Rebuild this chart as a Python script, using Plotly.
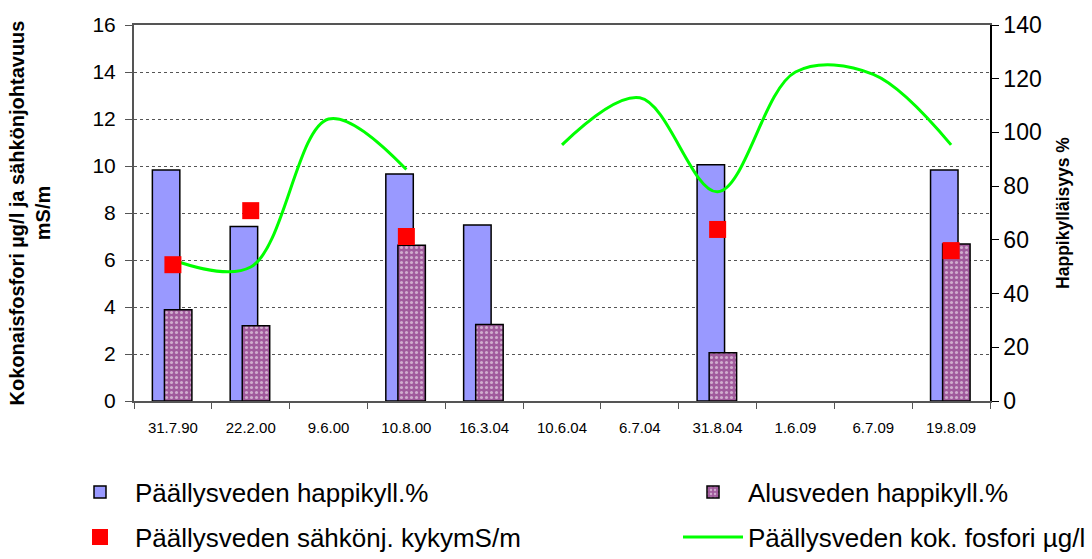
import plotly.graph_objects as go

# Sampling dates (category axis)
dates = ["31.7.90", "22.2.00", "9.6.00", "10.8.00", "16.3.04", "10.6.04",
         "6.7.04", "31.8.04", "1.6.09", "6.7.09", "19.8.09"]

# Oxygen saturation, % (right axis)
surface_o2 = [86, 65, None, 84.5, 65.5, None, None, 88, None, None, 86]
bottom_o2 = [34, 28, None, 58, 28.5, None, None, 18, None, None, 58.5]

# Surface water conductivity, mS/m (left axis)
conductivity = [5.8, 8.1, None, 7.0, None, None, None, 7.3, None, None, 6.4]

# Surface water total phosphorus, µg/l (left axis)
phosphorus = [6.0, 5.7, 12.0, 9.85, None, 10.9, 12.9, 8.9, 14.0, 13.9, 10.9]

left_ticks = list(range(0, 17, 2))
right_ticks = list(range(0, 141, 20))

FONT = "Liberation Sans, Arial, sans-serif"

# plot area in pixels
L, R, T, B = 134, 102, 25, 158
W, H = 1092, 559
PW, PH = W - L - R, H - T - B


def px_x(px):
    return (px - L) / PW


def px_y(py):
    return (H - B - py) / PH


fig = go.Figure()

fig.add_trace(go.Bar(
    x=dates, y=surface_o2, name="Päällysveden happikyll.%",
    marker=dict(color="#9999FF", line=dict(color="black", width=1.5)),
    width=0.353, offset=-0.264, yaxis="y", legend="legend",
))
fig.add_trace(go.Bar(
    x=dates, y=bottom_o2, name="Alusveden happikyll.%",
    marker=dict(color="#a05a9c", line=dict(color="black", width=1.5),
                pattern=dict(shape=".", fgcolor="white", bgcolor="#a05a9c",
                             size=5, solidity=0.3, fillmode="overlay")),
    width=0.353, offset=-0.109, yaxis="y", legend="legend2",
))
fig.add_trace(go.Scatter(
    x=dates, y=phosphorus, name="Päällysveden kok. fosfori µg/l",
    mode="lines", line=dict(color="#00FF00", width=3, shape="spline"),
    connectgaps=False, yaxis="y2", legend="legend4",
))
fig.add_trace(go.Scatter(
    x=dates, y=conductivity, name="Päällysveden sähkönj. kykymS/m",
    mode="markers", marker=dict(symbol="square", color="#FF0000", size=17,
                                line=dict(width=0)),
    yaxis="y2", legend="legend3",
))

leg_common = dict(xref="paper", yref="paper", xanchor="left",
                  yanchor="middle", bgcolor="rgba(0,0,0,0)",
                  font=dict(family=FONT, size=26, color="black"),
                  itemwidth=60)

fig.update_layout(
    width=W, height=H,
    margin=dict(l=L, r=R, t=T, b=B, autoexpand=False),
    paper_bgcolor="white", plot_bgcolor="white",
    barmode="overlay",
    showlegend=True,
    font=dict(family=FONT, color="black"),
    xaxis=dict(
        type="category", range=[-0.5, 10.5],
        showline=True, linecolor="#555555", linewidth=2, mirror=True,
        ticks="outside", tickson="boundaries", ticklen=6, tickcolor="#555555",
        tickfont=dict(size=15), tickangle=0, ticklabelstandoff=12,
        showgrid=False,
    ),
    yaxis=dict(
        side="right", range=[0, 140], tickvals=right_ticks,
        showline=True, linecolor="black", linewidth=1.5,
        ticks="outside", ticklen=7, tickcolor="black",
        tickfont=dict(size=23), showgrid=False, zeroline=False,
        title=dict(text="<b>Happikylläisyys %</b>", font=dict(size=17.5),
                   standoff=16),
    ),
    yaxis2=dict(
        side="left", overlaying="y", range=[0, 16], tickvals=left_ticks,
        showline=True, linecolor="#555555", linewidth=2,
        ticks="outside", ticklen=7, tickcolor="#555555",
        tickfont=dict(size=21), ticklabelstandoff=5, zeroline=False,
        showgrid=True, gridcolor="#555555", griddash="dot", gridwidth=1,
        title=dict(text="<b>Kokonaisfosfori µg/l ja sähkönjohtavuus<br>mS/m</b>",
                   font=dict(size=20), standoff=36),
    ),
    legend=dict(x=px_x(65), y=px_y(492), **leg_common),
    legend2=dict(x=px_x(678), y=px_y(492), **leg_common),
    legend3=dict(x=px_x(65), y=px_y(537), **leg_common),
    legend4=dict(x=px_x(678), y=px_y(537), **leg_common),
)

fig.write_html("out.html")
